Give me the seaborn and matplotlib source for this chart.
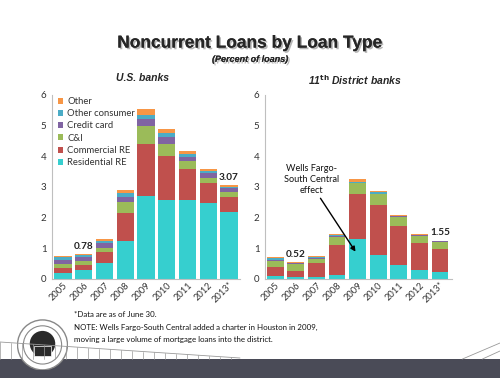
import numpy as np
import pandas as pd
import seaborn as sns
import matplotlib.pyplot as plt
import matplotlib.patheffects as pe
from matplotlib.patches import Circle, Rectangle
from matplotlib.lines import Line2D

# years on the x axis
years = ['2005', '2006', '2007', '2008', '2009', '2010', '2011', '2012', '2013*']
types = ['Residential RE', 'Commercial RE', 'C&I', 'Credit card', 'Other consumer', 'Other']
colors = ['#36CFCF', '#C0504D', '#9BBB59', '#8064A2', '#4BACC6', '#F79646']

# U.S. banks, percent of loans
us_res = [0.21, 0.29, 0.51, 1.23, 2.71, 2.58, 2.57, 2.48, 2.17]
us_cre = [0.14, 0.17, 0.36, 0.92, 1.69, 1.43, 1.02, 0.64, 0.50]
us_ci = [0.14, 0.11, 0.13, 0.35, 0.59, 0.39, 0.24, 0.18, 0.16]
us_cc = [0.13, 0.16, 0.16, 0.16, 0.22, 0.24, 0.16, 0.15, 0.13]
us_oc = [0.09, 0.05, 0.08, 0.13, 0.14, 0.11, 0.09, 0.06, 0.05]
us_other = [0.04, 0.02, 0.05, 0.11, 0.18, 0.14, 0.10, 0.06, 0.06]

# 11th District banks
d_res = [0.10, 0.08, 0.08, 0.13, 1.30, 0.78, 0.46, 0.28, 0.22]
d_cre = [0.28, 0.19, 0.43, 0.98, 1.47, 1.63, 1.28, 0.90, 0.75]
d_ci = [0.22, 0.22, 0.15, 0.27, 0.35, 0.35, 0.29, 0.23, 0.25]
d_cc = [0.03, 0.02, 0.02, 0.02, 0.02, 0.02, 0.01, 0.01, 0.01]
d_oc = [0.04, 0.02, 0.03, 0.03, 0.03, 0.04, 0.02, 0.02, 0.01]
d_other = [0.04, 0.02, 0.03, 0.04, 0.08, 0.06, 0.02, 0.02, 0.01]

# labelled totals (year index, label)
us_labels = [(1, '0.78'), (8, '3.07')]
d_labels = [(1, '0.52'), (8, '1.55')]

sns.set_style("white")
plt.rcParams['font.family'] = ['Lato', 'DejaVu Sans']

fig = plt.figure(figsize=(5, 3.78), dpi=100)
fig.patch.set_facecolor('white')


def stacked(ax, layers, labels):
    df = pd.DataFrame(dict(zip(types, layers)), index=years)
    cum = df.cumsum(axis=1)
    # draw tallest cumulative first so the lower layers sit on top
    for t, c in reversed(list(zip(types, colors))):
        sns.barplot(x=years, y=cum[t].values, color=c, width=0.82,
                    saturation=1, ax=ax, label=t, linewidth=0)
    totals = cum[types[-1]].values
    for i, txt in labels:
        ax.text(i, totals[i] + 0.25, txt, ha='center', va='center',
                fontsize=7.2, fontweight='bold', color='#222222')
    ax.set_ylim(0, 6)
    ax.set_yticks(range(7))
    ax.tick_params(axis='y', labelsize=7, colors='#333333', length=0, pad=4)
    ax.tick_params(axis='x', labelsize=6.7, colors='#333333', length=0, pad=1)
    for lab in ax.get_xticklabels():
        lab.set_rotation(45)
        lab.set_ha('right')
        lab.set_rotation_mode('anchor')
    sns.despine(ax=ax)
    for s in ['left', 'bottom']:
        ax.spines[s].set_color('#BFBFBF')
        ax.spines[s].set_linewidth(0.8)
    ax.set_xlabel('')
    ax.set_ylabel('')


ax1 = fig.add_axes([0.104, 0.262, 0.376, 0.487])
stacked(ax1, [us_res, us_cre, us_ci, us_cc, us_oc, us_other], us_labels)
ax1.set_xlim(-0.53, 8.53)
h, l = ax1.get_legend_handles_labels()
ax1.legend(h, l, loc='upper left', bbox_to_anchor=(0.0, 1.02), frameon=False,
           fontsize=6.8, handlelength=0.6, handleheight=0.6, handletextpad=0.4,
           labelspacing=0.35, borderaxespad=0.2, labelcolor='#333333')

ax2 = fig.add_axes([0.53, 0.262, 0.374, 0.487])
stacked(ax2, [d_res, d_cre, d_ci, d_cc, d_oc, d_other], d_labels)
ax2.set_xlim(-0.49, 8.58)
if ax2.get_legend():
    ax2.get_legend().remove()
ax2.text(1.77, 3.25, 'Wells Fargo-\nSouth Central\neffect', ha='center', va='center',
         fontsize=6.6, color='#111111', linespacing=1.25)
ax2.annotate('', xy=(3.9, 0.89), xytext=(2.2, 2.63),
             arrowprops=dict(arrowstyle='-|>', color='black', lw=1.0,
                             shrinkA=0, shrinkB=0, mutation_scale=7))

# titles
shadow = [pe.withSimplePatchShadow(offset=(1.2, -1.2), shadow_rgbFace='#888888', alpha=0.6), pe.Normal()]
fig.text(0.5, 0.886, 'Noncurrent Loans by Loan Type', ha='center', va='center',
         fontsize=12.5, fontweight='bold', family='Liberation Sans', path_effects=shadow)
fig.text(0.5, 0.843, '(Percent of loans)', ha='center', va='center', fontsize=6.5,
         fontweight='bold', style='italic', family='Liberation Sans', path_effects=shadow)
fig.text(0.284, 0.793, 'U.S. banks', ha='center', va='center', fontsize=7.5,
         fontweight='bold', style='italic', family='Liberation Sans')
fig.text(0.71, 0.788, r'11$^{\mathbf{th}}$ District banks', ha='center', va='center',
         fontsize=7.5, fontweight='bold', style='italic', family='Liberation Sans')

# footnotes
notes = ['*Data are as of June 30.',
         'NOTE: Wells Fargo-South Central added a charter in Houston in 2009,',
         'moving a large volume of mortgage loans into the district.']
for k, n in enumerate(notes):
    fig.text(0.148, 0.167 - k * 0.032, n, ha='left', va='center', fontsize=5.7, color='#111111')

# footer band and decorations
fig.add_artist(Rectangle((0, 0), 1, 19 / 378, transform=fig.transFigure,
                         facecolor='#4A4B57', edgecolor='none', zorder=0))
fig.add_artist(Line2D([0, 0.48], [1 - 342 / 378, 1 - 358 / 378], transform=fig.transFigure,
                      color='#999999', lw=0.6))
for xp in np.arange(0.0, 0.48, 0.022):
    ytop = 1 - (342 + 16 * xp / 0.48) / 378
    fig.add_artist(Line2D([xp, xp], [ytop, 19 / 378], transform=fig.transFigure,
                          color='#999999', lw=0.5))
fig.add_artist(Line2D([0.925, 1.0], [19 / 378, 1 - 343 / 378], transform=fig.transFigure,
                      color='#999999', lw=0.6))
fig.add_artist(Line2D([0.965, 1.0], [19 / 378, 1 - 351 / 378], transform=fig.transFigure,
                      color='#999999', lw=0.6))

# simple seal
lax = fig.add_axes([0.034, 0.02, 0.102, 0.135])
lax.set_xlim(-1, 1)
lax.set_ylim(-1, 1)
lax.set_aspect('equal')
lax.axis('off')
lax.add_patch(Circle((0, 0), 0.98, facecolor='white', edgecolor='#888888', lw=1))
lax.add_patch(Circle((0, 0), 0.75, facecolor='white', edgecolor='#888888', lw=0.8))
lax.add_patch(Circle((0, 0.05), 0.5, facecolor='#2A2A2A', edgecolor='none'))
lax.add_patch(Rectangle((-0.35, -0.45), 0.7, 0.4, facecolor='#2A2A2A', edgecolor='white', lw=0.5))

fig.savefig('out.png', dpi=100)
